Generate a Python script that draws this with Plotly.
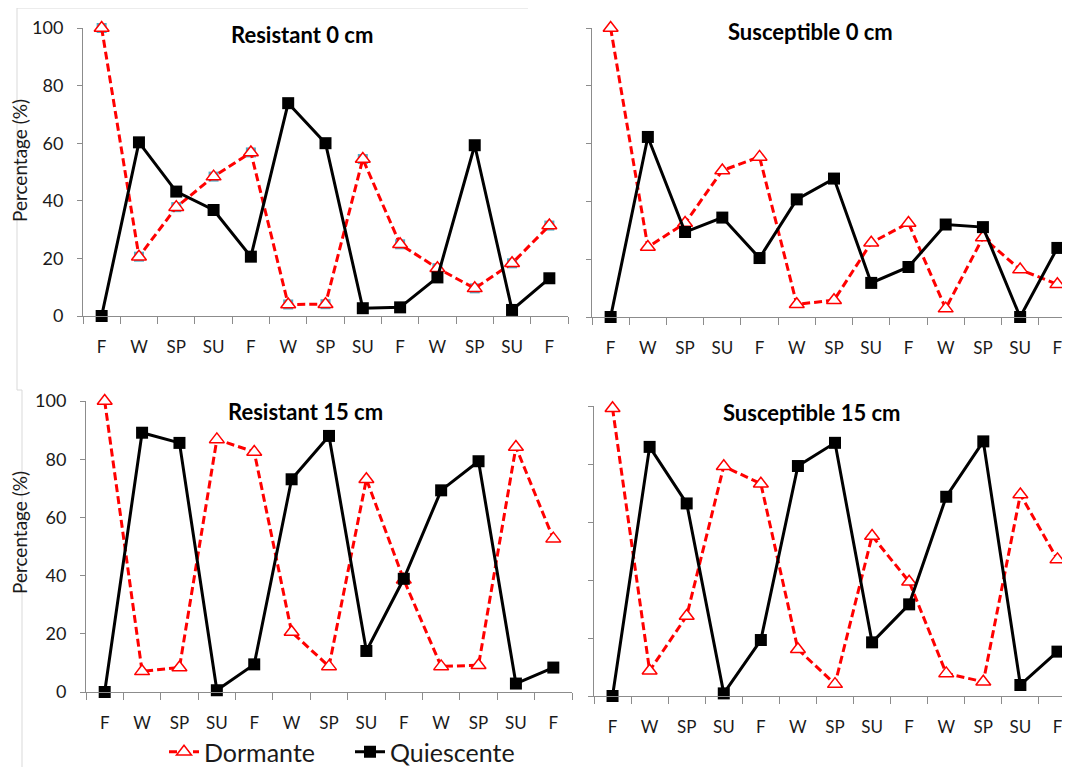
import plotly.graph_objects as go

W, H = 1070, 767
OFF = 8  # page body margin in the browser

seasons = ["F", "W", "SP", "SU", "F", "W", "SP", "SU", "F", "W", "SP", "SU", "F"]
xpos = list(range(len(seasons)))

res0_dormante = [100, 20.6, 37.8, 48.4, 56.8, 4.0, 4.1, 54.5, 24.9, 16.6, 9.6, 18.3, 31.4]
res0_quiescente = [0, 60.3, 43.2, 36.8, 20.6, 73.9, 60.0, 2.7, 3.0, 13.4, 59.3, 2.1, 13.1]

sus0_dormante = [100, 24.2, 32.5, 50.7, 55.4, 4.4, 5.8, 25.7, 32.5, 2.9, 27.5, 16.4, 11.3]
sus0_quiescente = [0, 62.3, 29.4, 34.4, 20.4, 40.7, 47.9, 11.8, 17.3, 32.0, 31.1, 0, 23.9]

res15_dormante = [100, 7.1, 8.4, 86.8, 82.5, 20.6, 8.8, 73.1, 38.6, 8.8, 9.2, 84.2, 52.7]
res15_quiescente = [0, 89.1, 85.6, 0.6, 9.5, 73.1, 88.0, 14.1, 38.9, 69.3, 79.3, 2.9, 8.4]

sus15_dormante = [99.2, 8.7, 27.6, 79.2, 73.2, 16.1, 4.1, 55.2, 39.4, 7.8, 4.9, 69.5, 47.1]
sus15_quiescente = [0, 85.9, 66.4, 0.9, 19.3, 79.3, 87.3, 18.5, 31.6, 68.7, 87.8, 3.8, 15.3]

panel_titles = ["Resistant 0 cm", "Susceptible 0 cm", "Resistant 15 cm", "Susceptible 15 cm"]
series_names = ["Dormante", "Quiescente"]
yticks = [0, 20, 40, 60, 80, 100]

FONT = "Lato, 'Open Sans', sans-serif"
AXIS_COLOR = "#8c8c8c"
TEXT_COLOR = "#1a1a1a"
RED = "#ff0000"
TEAL = "#4bacc6"


def px_x(p):
    return max(0.0, min(1.0, (p - OFF) / W))


def px_y(p):
    return max(0.0, min(1.0, 1 - (p - OFF) / H))


# panel geometry in screen pixels
panels = [
    dict(x0=83, x1=568, yt=28, yb=316),
    dict(x0=592, x1=1076, yt=28, yb=317),
    dict(x0=86, x1=572, yt=401, yb=692),
    dict(x0=594, x1=1076, yt=406, yb=696),
]

data = [
    (res0_dormante, res0_quiescente),
    (sus0_dormante, sus0_quiescente),
    (res15_dormante, res15_quiescente),
    (sus15_dormante, sus15_quiescente),
]

fig = go.Figure()
layout = {}

for i, (p, (dorm, quie)) in enumerate(zip(panels, data)):
    n = i + 1
    xa = "x" if n == 1 else f"x{n}"
    ya = "y" if n == 1 else f"y{n}"
    xkey = "xaxis" if n == 1 else f"xaxis{n}"
    ykey = "yaxis" if n == 1 else f"yaxis{n}"

    if i == 0:
        # faint teal squares visible behind the triangles in this panel
        fig.add_trace(go.Scatter(
            x=xpos, y=dorm, xaxis=xa, yaxis=ya, mode="markers",
            marker=dict(symbol="square", size=10, color=TEAL),
            showlegend=False, hoverinfo="skip", cliponaxis=False,
        ))

    fig.add_trace(go.Scatter(
        x=xpos, y=dorm, xaxis=xa, yaxis=ya, mode="lines+markers",
        name=series_names[0], legendgroup="d", showlegend=(i == 0),
        line=dict(color=RED, width=3, dash="8px,4px"),
        marker=dict(symbol="triangle-up", size=13, color="white",
                    line=dict(color=RED, width=1.5)),
        cliponaxis=False,
    ))
    fig.add_trace(go.Scatter(
        x=xpos, y=quie, xaxis=xa, yaxis=ya, mode="lines+markers",
        name=series_names[1], legendgroup="q", showlegend=(i == 0),
        line=dict(color="black", width=3),
        marker=dict(symbol="square", size=12, color="black"),
        cliponaxis=False,
    ))

    layout[xkey] = dict(
        domain=[px_x(p["x0"]), px_x(p["x1"])],
        anchor=ya,
        range=[-0.5, 12.5],
        tickmode="array", tickvals=xpos, ticktext=seasons,
        ticks="outside", ticklen=16, tickcolor="rgba(0,0,0,0)",
        tickfont=dict(family=FONT, size=17, color=TEXT_COLOR),
        showline=True, linecolor=AXIS_COLOR, linewidth=1,
        showgrid=False, zeroline=False, fixedrange=True,
        minor=dict(tickmode="linear", tick0=-0.5, dtick=1, ticks="outside",
                   ticklen=7, tickcolor=AXIS_COLOR, tickwidth=1, showgrid=False),
    )
    layout[ykey] = dict(
        domain=[px_y(p["yb"]), px_y(p["yt"])],
        anchor=xa,
        range=[0, 100],
        tickmode="array", tickvals=yticks,
        ticks="outside", ticklen=5, tickcolor=AXIS_COLOR, tickwidth=1,
        showticklabels=(i % 2 == 0),
        ticklabelstandoff=10,
        tickfont=dict(family=FONT, size=18, color=TEXT_COLOR),
        showline=True, linecolor=AXIS_COLOR, linewidth=1,
        showgrid=False, zeroline=False, fixedrange=True,
    )

title_pos = [(301.5, 35), (810, 32), (305.5, 411), (811.5, 412)]
annotations = []
for t, (cx, cy) in zip(panel_titles, title_pos):
    annotations.append(dict(
        text=f"<b>{t}</b>", x=px_x(cx), y=px_y(cy), xref="paper", yref="paper",
        xanchor="center", yanchor="middle", showarrow=False,
        font=dict(family=FONT, size=22, color="black"),
    ))
for cy in (161, 533):
    annotations.append(dict(
        text="Percentage (%)", x=px_x(19), y=px_y(cy), xref="paper", yref="paper",
        xanchor="center", yanchor="middle", showarrow=False, textangle=-90,
        font=dict(family=FONT, size=19, color=TEXT_COLOR),
    ))

frame = "#d9d9d9"
shapes = [
    dict(type="line", xref="paper", yref="paper", x0=px_x(17), y0=px_y(8), x1=px_x(528), y1=px_y(8),
         line=dict(color=frame, width=1)),
    dict(type="line", xref="paper", yref="paper", x0=px_x(17), y0=px_y(8), x1=px_x(17), y1=px_y(390),
         line=dict(color=frame, width=1)),
    dict(type="line", xref="paper", yref="paper", x0=px_x(17), y0=px_y(390), x1=px_x(22), y1=px_y(390),
         line=dict(color=frame, width=1)),
    dict(type="line", xref="paper", yref="paper", x0=px_x(22), y0=px_y(390), x1=px_x(22), y1=0,
         line=dict(color=frame, width=1)),
]

fig.update_layout(
    width=W, height=H,
    margin=dict(l=0, r=0, t=0, b=0, autoexpand=False),
    paper_bgcolor="white", plot_bgcolor="white",
    font=dict(family=FONT, color=TEXT_COLOR),
    showlegend=True,
    legend=dict(
        orientation="h", x=px_x(164), y=px_y(775), xanchor="left", yanchor="bottom",
        font=dict(family=FONT, size=25, color=TEXT_COLOR),
        bgcolor="rgba(0,0,0,0)", itemwidth=30,
        entrywidth=141, entrywidthmode="pixels",
    ),
    annotations=annotations,
    shapes=shapes,
    **layout,
)

fig.write_html("out.html")
